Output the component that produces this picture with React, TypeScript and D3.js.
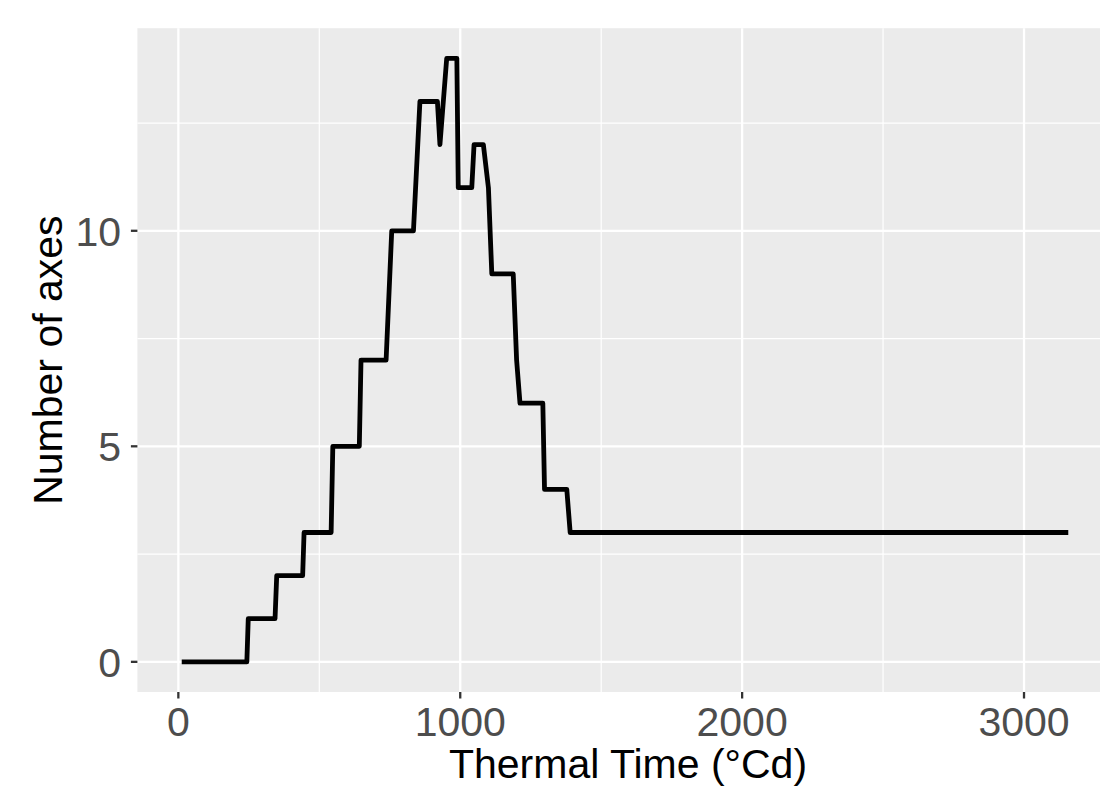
import React from "react";
import * as d3 from "d3";

const thermalTime = [12, 243, 248, 343, 349, 441, 446, 542, 548, 642, 648, 737, 757, 834, 857, 919, 928, 952, 988, 993, 1041, 1049, 1082, 1100, 1112, 1188, 1200, 1212, 1293, 1299, 1378, 1390, 3157];
const numAxes = [0, 0, 1, 1, 2, 2, 3, 3, 5, 5, 7, 7, 10, 10, 13, 13, 12, 14, 14, 11, 11, 12, 12, 11, 9, 9, 7, 6, 6, 4, 4, 3, 3];
const xMajor = [0, 1000, 2000, 3000];
const xMinor = [500, 1500, 2500];
const yMajor = [0, 5, 10];
const yMinor = [2.5, 7.5, 12.5];
const xTitle = "Thermal Time (°Cd)";
const yTitle = "Number of axes";

export default function App() {
  const W = 1100, H = 791;
  const left = 137.4, right = 1112.6, top = 28.2, bottom = 692;
  const xExt = d3.extent(thermalTime) as [number, number];
  const yExt = d3.extent(numAxes) as [number, number];
  const xPad = (xExt[1] - xExt[0]) * 0.05;
  const yPad = (yExt[1] - yExt[0]) * 0.05;
  const x = d3.scaleLinear().domain([xExt[0] - xPad, xExt[1] + xPad]).range([left, right]);
  const y = d3.scaleLinear().domain([yExt[0] - yPad, yExt[1] + yPad]).range([bottom, top]);
  const pts = thermalTime.map((t, i) => [t, numAxes[i]] as [number, number]);
  const line = d3.line<[number, number]>().x(d => x(d[0])).y(d => y(d[1]));
  const font = "'Liberation Sans', Arial, Helvetica, sans-serif";
  const fs = 41;
  return (
    <svg width={W} height={H} style={{ position: "absolute", left: 0, top: 0 }} fontFamily={font}>
      <rect x={0} y={0} width={W} height={H} fill="#ffffff" />
      <rect x={left} y={top} width={right - left} height={bottom - top} fill="#EBEBEB" />
      {xMinor.map(v => (
        <line key={"xm" + v} x1={x(v)} x2={x(v)} y1={top} y2={bottom} stroke="#fff" strokeWidth={1.2} />
      ))}
      {yMinor.map(v => (
        <line key={"ym" + v} x1={left} x2={right} y1={y(v)} y2={y(v)} stroke="#fff" strokeWidth={1.2} />
      ))}
      {xMajor.map(v => (
        <line key={"xM" + v} x1={x(v)} x2={x(v)} y1={top} y2={bottom} stroke="#fff" strokeWidth={2.3} />
      ))}
      {yMajor.map(v => (
        <line key={"yM" + v} x1={left} x2={right} y1={y(v)} y2={y(v)} stroke="#fff" strokeWidth={2.3} />
      ))}
      <path d={line(pts) || ""} fill="none" stroke="#000" strokeWidth={4.8} strokeLinejoin="round" strokeLinecap="butt" />
      {xMajor.map(v => (
        <g key={"xt" + v}>
          <line x1={x(v)} x2={x(v)} y1={bottom} y2={bottom + 6.5} stroke="#333" strokeWidth={2.3} />
          <text x={x(v)} y={736} textAnchor="middle" fontSize={fs} fill="#4D4D4D">{v}</text>
        </g>
      ))}
      {yMajor.map(v => (
        <g key={"yt" + v}>
          <line x1={left - 6.5} x2={left} y1={y(v)} y2={y(v)} stroke="#333" strokeWidth={2.3} />
          <text x={121} y={y(v)} dy="0.36em" textAnchor="end" fontSize={fs} fill="#4D4D4D">{v}</text>
        </g>
      ))}
      <text x={628} y={777.7} textAnchor="middle" fontSize={fs} fill="#000">{xTitle}</text>
      <text transform={`translate(61.7,${(top + bottom) / 2}) rotate(-90)`} textAnchor="middle" fontSize={fs} fill="#000">{yTitle}</text>
    </svg>
  );
}
